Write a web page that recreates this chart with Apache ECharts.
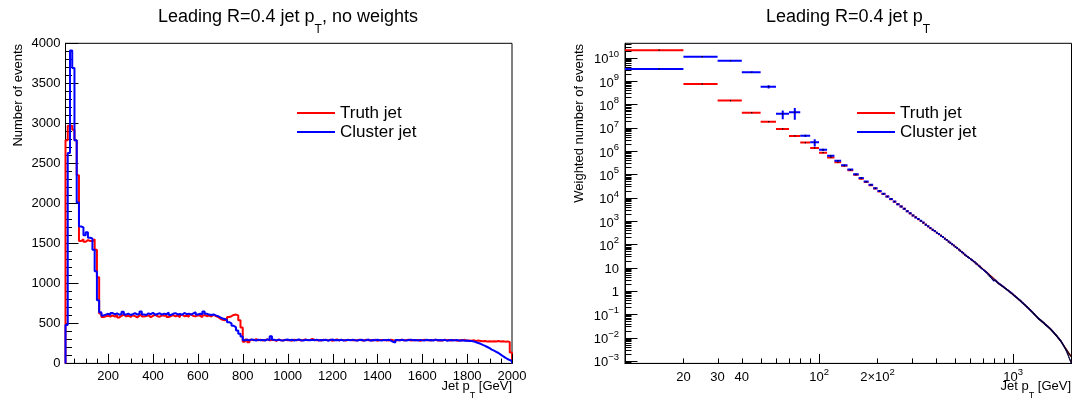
<!DOCTYPE html>
<html>
<head>
<meta charset="utf-8">
<script src="https://cdn.jsdelivr.net/npm/echarts@6.0.0/dist/echarts.min.js"></script>
<style>
html,body{margin:0;padding:0;background:#fff;}
#chart{width:1075px;height:401px;}
</style>
</head>
<body>
<div id="chart"></div>
<script>
// ---------------- data ----------------
// 10 GeV bins from 10 to 2000 GeV
const BIN_START = 10;
const BIN_WIDTH = 10;

const seriesNames = ['Truth jet', 'Cluster jet'];

// left panel: raw counts per bin
const truthCounts = [
  2790, 2970, 2970, 2920, 2790, 2350, 1530, 1550, 1520, 1540,
  1530, 1530, 1550, 1420, 1075, 625, 580, 590, 595, 585,
  600, 585, 605, 575, 595, 610, 588, 596, 580, 602,
  590, 575, 598, 612, 585, 593, 600, 578, 595, 607,
  590, 583, 600, 595, 612, 580, 592, 603, 587, 598,
  576, 605, 590, 596, 583, 610, 592, 588, 600, 595,
  578, 603, 590, 598, 585, 607, 592, 580, 560, 545,
  540, 550, 580, 590, 605, 610, 600, 540, 450, 270,
  300, 265, 295, 290, 302, 288, 296, 285, 293, 300,
  287, 295, 291, 283, 298, 290, 286, 296, 289, 293,
  284, 297, 290, 295, 286, 292, 299, 288, 294, 305,
  296, 289, 293, 285, 297, 291, 288, 295, 283, 292,
  298, 287, 294, 290, 285, 296, 291, 288, 293, 286,
  295, 290, 284, 297, 289, 292, 287, 296, 283, 291,
  294, 288, 292, 286, 297, 290, 284, 293, 289, 295,
  287, 292, 296, 285, 291, 289, 294, 283, 290, 297,
  288, 293, 286, 291, 295, 287, 290, 284, 296, 289,
  292, 286, 294, 290, 283, 291, 288, 295, 282, 287,
  284, 290, 279, 286, 281, 276, 279, 274, 278, 275,
  277, 273, 279, 274, 276, 272, 275, 268, 135
];
const clusterCounts = [
  480, 2630, 3910, 3690, 2790, 2010, 1710, 1700, 1600, 1640,
  1570, 1560, 1420, 1150, 790, 640, 600, 610, 620, 605,
  630, 612, 625, 608, 618, 645, 610, 622, 605, 615,
  628, 610, 620, 648, 612, 605, 625, 615, 632, 608,
  618, 626, 610, 622, 615, 635, 605, 620, 628, 612,
  618, 608, 630, 615, 622, 610, 625, 640, 612, 620,
  615, 650, 620, 610, 605, 612, 600, 590, 575, 560,
  555, 540, 515, 500, 470, 450, 410, 370, 335, 290,
  296, 288, 300, 292, 285, 297, 290, 294, 286, 300,
  292, 340, 295, 288, 297, 290, 286, 294, 298, 289,
  295, 287, 292, 298, 290, 285, 296, 291, 288, 294,
  290, 297, 286, 293, 289, 295, 284, 292, 298, 288,
  293, 289, 296, 285, 291, 294, 288, 297, 290, 286,
  292, 295, 287, 290, 298, 284, 293, 289, 296, 290,
  287, 294, 290, 296, 285, 270, 262, 291, 288, 295,
  290, 286, 293, 297, 289, 292, 285, 294, 290, 287,
  295, 289, 292, 286, 297, 290, 293, 288, 294, 284,
  290, 293, 286, 291, 288, 284, 289, 283, 286, 281,
  280, 275, 265, 255, 245, 232, 220, 205, 190, 172,
  160, 145, 130, 110, 90, 72, 55, 42, 30
];

// right panel: weighted counts per bin
const truthWeighted = [
  2.1e10, 7.5e8, 1.45e8, 4.4e7, 1.8e7, 8.8e6, 4.4e6, 2.3e6, 1.35e6, 8.5e5,
  5.3e5, 3.3e5, 2.3e5, 1.5e5, 9.5e4, 6.5e4, 4.7e4, 3.4e4, 2.45e4, 1.84e4,
  1.43e4, 1.11e4, 8.6e3, 6.7e3, 5.2e3, 4.2e3, 3.3e3, 2.6e3, 2.1e3, 1.7e3,
  1.43e3, 1.19e3, 1.0e3, 8.4e2, 7.0e2, 5.85e2, 4.9e2, 4.2e2, 3.65e2, 3.15e2,
  272, 235, 203, 175, 151, 131, 115, 101, 88.5, 77.6,
  68.2, 59.8, 52.6, 46.1, 40.6, 35.6, 31.8, 28.6, 25.7, 23.1,
  20.8, 18.7, 16.8, 15.1, 13.6, 12.2, 11.0, 9.84, 8.89, 8.05,
  7.29, 6.62, 6.0, 5.43, 4.93, 4.47, 4.05, 3.67, 3.33, 3.01,
  2.74, 2.46, 2.26, 2.05, 1.94, 1.78, 1.68, 1.55, 1.47, 1.35,
  1.27, 1.18, 1.10, 1.03, 0.96, 0.893, 0.834, 0.778, 0.726, 0.679,
  0.634, 0.592, 0.552, 0.515, 0.482, 0.450, 0.420, 0.392, 0.366, 0.342,
  0.319, 0.298, 0.278, 0.260, 0.243, 0.227, 0.212, 0.199, 0.186, 0.174,
  0.163, 0.152, 0.142, 0.133, 0.124, 0.116, 0.109, 0.102, 0.0951, 0.0889,
  0.0832, 0.0778, 0.0728, 0.0681, 0.0646, 0.0615, 0.0585, 0.0556, 0.0528, 0.0502,
  0.0478, 0.0454, 0.0432, 0.0410, 0.0390, 0.0371, 0.0352, 0.0335, 0.0319, 0.0303,
  0.0288, 0.0274, 0.0261, 0.0248, 0.0236, 0.0224, 0.0213, 0.0200, 0.0189, 0.0178,
  0.0168, 0.0159, 0.0150, 0.0141, 0.0133, 0.0126, 0.0119, 0.0112, 0.0105, 0.00995,
  0.00938, 0.00885, 0.00834, 0.00787, 0.00743, 0.00700, 0.00656, 0.00607, 0.00562, 0.00521,
  4.8e-3, 4.5e-3, 4.2e-3, 3.9e-3, 3.65e-3, 3.4e-3, 3.2e-3, 3.0e-3, 2.8e-3, 2.6e-3,
  2.45e-3, 2.3e-3, 2.15e-3, 2.0e-3, 1.9e-3, 1.8e-3, 1.7e-3, 1.6e-3, 1.0e-3
];
const clusterWeighted = [
  3.3e9, 1.1e10, 7.4e9, 2.37e9, 5.7e8, 3.9e7, 4.6e7, 4.5e6, 2.35e6, 1.12e6,
  6.2e5, 3.8e5, 2.45e5, 1.6e5, 1.0e5, 6.9e4, 4.9e4, 3.55e4, 2.5e4, 1.9e4,
  1.46e4, 1.12e4, 8.8e3, 6.8e3, 5.25e3, 4.15e3, 3.35e3, 2.62e3, 2.12e3, 1.72e3,
  1.42e3, 1.2e3, 1.01e3, 8.5e2, 6.95e2, 5.9e2, 4.95e2, 4.15e2, 3.7e2, 3.12e2,
  275, 233, 205, 173, 153, 130, 116, 100, 89.5, 77,
  68.8, 59.2, 53.1, 45.7, 41.0, 35.2, 32.1, 28.3, 26.0, 22.8,
  21.0, 18.5, 17.0, 14.9, 13.7, 12.0, 11.1, 9.7, 8.8, 7.9,
  7.15, 6.45, 5.8, 5.0, 4.45, 3.95, 3.5, 3.1, 2.8, 2.9,
  2.72, 2.5, 2.22, 2.08, 1.91, 1.8, 1.65, 1.57, 1.45, 1.37,
  1.26, 1.19, 1.09, 1.04, 0.95, 0.9, 0.826, 0.785, 0.72, 0.684,
  0.628, 0.597, 0.547, 0.519, 0.477, 0.454, 0.416, 0.395, 0.362, 0.345,
  0.316, 0.3, 0.275, 0.262, 0.24, 0.229, 0.21, 0.2, 0.184, 0.175,
  0.161, 0.153, 0.14, 0.134, 0.122, 0.117, 0.107, 0.103, 0.0938, 0.0895,
  0.082, 0.0783, 0.0718, 0.0685, 0.0638, 0.0619, 0.0578, 0.0559, 0.0521, 0.0505,
  0.0472, 0.0457, 0.0427, 0.0412, 0.0385, 0.0362, 0.0343, 0.0337, 0.0315, 0.0305,
  0.0285, 0.0276, 0.0258, 0.025, 0.0233, 0.0226, 0.021, 0.0202, 0.0186, 0.018,
  0.0166, 0.016, 0.0148, 0.0142, 0.0131, 0.0127, 0.0117, 0.0113, 0.0104, 0.01,
  0.0093, 0.0089, 0.0082, 0.0079, 0.0073, 0.0069, 0.0065, 0.006, 0.0055, 0.0051,
  4.7e-3, 4.35e-3, 4.0e-3, 3.7e-3, 3.4e-3, 3.1e-3, 2.85e-3, 2.6e-3, 2.35e-3, 2.1e-3,
  1.9e-3, 1.7e-3, 1.5e-3, 1.35e-3, 1.2e-3, 1.1e-3, 1.0e-3, 9.0e-4, 8.0e-4
];
// statistical errors of the weighted histograms (first bins; later bins negligible)
const truthWeightedErr = [4e8, 3e7, 6e6, 1.5e6, 6e5, 3e5, 1.5e5, 8e4, 4e4, 2.5e4, 1.5e4, 1e4];
const clusterWeightedErr = [1.5e8, 4e8, 3e8, 1.6e8, 9e7, 1.6e7, 2.4e7, 5e5, 8e5, 1.2e5, 5e4, 3e4];

// tick labels
const leftXTickLabels = ['200', '400', '600', '800', '1000', '1200', '1400', '1600', '1800', '2000'];
const leftYTickLabels = ['0', '500', '1000', '1500', '2000', '2500', '3000', '3500', '4000'];
const rightXTickValues = [20, 30, 40, 100, 200, 1000];
const rightXTickLabels = ['20', '30', '40', '10^2', '2\u00d710^2', '10^3'];
const rightYTickLabels = ['10^\u22123', '10^\u22122', '10^\u22121', '1', '10', '10^2', '10^3', '10^4', '10^5', '10^6', '10^7', '10^8', '10^9', '10^10'];

// ---------------- chart ----------------
const FONT = "'Liberation Sans', Arial, Helvetica, sans-serif";
const RED = '#ff0000', BLUE = '#0000ff';
const L_X = [10, 2000], L_Y = [0, 4000];
const R_X = [10, 2000], R_Y = [7.8e-4, 4.14e10];

function richLabel(s) {
  const i = s.indexOf('^');
  if (i < 0) return '{b|' + s + '}';
  return '{b|' + s.slice(0, i) + '}{e|' + s.slice(i + 1) + '}';
}
const LABEL_RICH = {
  b: { fontSize: 13, fontFamily: FONT, lineHeight: 17, verticalAlign: 'bottom', fill: '#000', color: '#000' },
  e: { fontSize: 9.5, fontFamily: FONT, lineHeight: 10, verticalAlign: 'top', fill: '#000', color: '#000' }
};

function binLow(i) { return BIN_START + i * BIN_WIDTH; }

function stepData(vals) {
  const d = [[binLow(0), 0]];
  vals.forEach((v, i) => d.push([binLow(i), v]));
  d.push([binLow(vals.length), vals[vals.length - 1]]);
  d.push([binLow(vals.length), 0]);
  return d;
}

function countSeries(name, color, vals) {
  return {
    type: 'line', name, xAxisIndex: 0, yAxisIndex: 0, step: 'end',
    data: stepData(vals), showSymbol: false, symbol: 'none', color,
    lineStyle: { color, width: 2 }, silent: true
  };
}

function weightedSeries(name, color, vals, errs) {
  const data = vals.map((v, i) => [binLow(i), binLow(i + 1), v, errs[i] || 0]);
  return {
    type: 'custom', name, xAxisIndex: 1, yAxisIndex: 1, clip: true, color,
    itemStyle: { color }, silent: true,
    encode: { x: [0, 1], y: 2 },
    data,
    renderItem(params, api) {
      const lo = api.value(0), hi = api.value(1), v = api.value(2), e = api.value(3);
      const c = (lo + hi) / 2;
      const a = api.coord([lo, v]), b = api.coord([hi, v]), m = api.coord([c, v]);
      const ch = [{ type: 'line', shape: { x1: a[0], y1: a[1], x2: b[0], y2: b[1] }, style: { stroke: color, lineWidth: 2 } }];
      if (e > 0) {
        const up = api.coord([c, v + e]), dn = api.coord([c, Math.max(v - e, v * 0.05)]);
        ch.push({ type: 'line', shape: { x1: up[0], y1: up[1], x2: dn[0], y2: dn[1] }, style: { stroke: color, lineWidth: 2 } });
      }
      ch.push({ type: 'rect', shape: { x: m[0] - 0.6, y: m[1] - 0.6, width: 1.2, height: 1.2 }, style: { fill: '#000' } });
      return { type: 'group', children: ch };
    }
  };
}

function tickSeries(gridIdx, dir, ticks, other, lenMajor, lenMinor, gap) {
  return {
    type: 'custom', xAxisIndex: gridIdx, yAxisIndex: gridIdx, silent: true, clip: false, z: 5,
    data: ticks.map(t => (dir === 'x' ? [t.v, other] : [other, t.v])),
    encode: { x: 0, y: 1 },
    renderItem(params, api) {
      const t = ticks[params.dataIndex];
      const p = api.coord([api.value(0), api.value(1)]);
      const len = t.major ? lenMajor : lenMinor;
      const ch = [];
      if (dir === 'x') {
        const x = Math.round(p[0]) + 0.5;
        ch.push({ type: 'line', shape: { x1: x, y1: p[1], x2: x, y2: p[1] - len }, style: { stroke: '#000', lineWidth: 1 } });
      } else {
        const y = Math.round(p[1]) + 0.5;
        ch.push({ type: 'line', shape: { x1: p[0], y1: y, x2: p[0] + len, y2: y }, style: { stroke: '#000', lineWidth: 1 } });
      }
      if (t.label) {
        ch.push({
          type: 'text',
          x: dir === 'x' ? p[0] : p[0] - gap,
          y: dir === 'x' ? p[1] + gap : p[1],
          style: { text: richLabel(t.label), rich: LABEL_RICH, align: dir === 'x' ? 'center' : 'right', verticalAlign: 'middle' }
        });
      }
      return { type: 'group', children: ch };
    }
  };
}

// tick lists
const leftXTicks = [];
for (let v = 50; v < L_X[1]; v += 50) {
  const li = leftXTickLabels.indexOf(String(v));
  leftXTicks.push({ v, major: v % 200 === 0, label: li >= 0 ? leftXTickLabels[li] : null });
}
leftXTicks.push({ v: 2000, major: true, label: '2000' });

const rightXTicks = [];
for (let n = 1; n <= 3; n++) {
  for (let k = 1; k <= 9; k++) {
    const v = k * Math.pow(10, n);
    if (v <= R_X[0] || v >= R_X[1]) continue;
    const li = rightXTickValues.indexOf(v);
    rightXTicks.push({ v, major: k === 1, label: li >= 0 ? rightXTickLabels[li] : null });
  }
}
const rightYTicks = [];
for (let n = -4; n <= 10; n++) {
  for (let k = 1; k <= 9; k++) {
    const v = k * Math.pow(10, n);
    if (v < R_Y[0] || v > R_Y[1]) continue;
    rightYTicks.push({ v, major: k === 1, label: k === 1 ? rightYTickLabels[n + 3] : null });
  }
}

const TITLE_RICH = {
  b: { fontSize: 18, fontFamily: FONT, lineHeight: 22, verticalAlign: 'top', fill: '#000' },
  s: { fontSize: 12, fontFamily: FONT, lineHeight: 12, padding: [16, 0, 0, 0], verticalAlign: 'top', fill: '#000' }
};
const XTITLE_RICH = {
  b: { fontSize: 13, fontFamily: FONT, lineHeight: 16, verticalAlign: 'top', fill: '#000' },
  s: { fontSize: 9, fontFamily: FONT, lineHeight: 9, padding: [11, 0, 0, 0], verticalAlign: 'top', fill: '#000' }
};
const LEGEND = { orient: 'vertical', itemWidth: 38, itemHeight: 2, icon: 'rect', itemGap: 0, padding: 0,
  selectedMode: false, textStyle: { fontSize: 17, fontFamily: FONT, color: '#000', lineHeight: 19 } };

const AXIS_LINE = { show: true, lineStyle: { color: '#000', width: 1 } };
const chart = echarts.init(document.getElementById('chart'), null, { renderer: 'canvas' });
chart.setOption({
  animation: false,
  backgroundColor: '#fff',
  grid: [
    { left: 65.5, right: 563, top: 43.3, bottom: 37.6, show: true, borderColor: '#000', borderWidth: 1, backgroundColor: 'transparent', containLabel: false, outerBoundsMode: 'none' },
    { left: 625, right: 3.5, top: 43.3, bottom: 37.6, show: true, borderColor: '#000', borderWidth: 1, backgroundColor: 'transparent', containLabel: false, outerBoundsMode: 'none' }
  ],
  xAxis: [
    { type: 'value', gridIndex: 0, min: L_X[0], max: L_X[1], axisLine: AXIS_LINE, axisTick: { show: false }, axisLabel: { show: false }, splitLine: { show: false } },
    { type: 'log', logBase: 10, gridIndex: 1, min: R_X[0], max: R_X[1], axisLine: AXIS_LINE, axisTick: { show: false }, axisLabel: { show: false }, splitLine: { show: false } }
  ],
  yAxis: [
    { type: 'value', gridIndex: 0, min: L_Y[0], max: L_Y[1], interval: 500, axisLine: AXIS_LINE,
      axisTick: { show: true, inside: true, length: 13, lineStyle: { color: '#000' } },
      minorTick: { show: true, splitNumber: 5, length: 6.5, lineStyle: { color: '#000' } },
      axisLabel: { show: true, color: '#000', fontSize: 13, fontFamily: FONT, margin: 5,
        formatter: (v) => leftYTickLabels[Math.round(v / 500)] },
      splitLine: { show: false }, minorSplitLine: { show: false } },
    { type: 'log', logBase: 10, gridIndex: 1, min: R_Y[0], max: R_Y[1], axisLine: AXIS_LINE, axisTick: { show: false }, axisLabel: { show: false }, splitLine: { show: false } }
  ],
  legend: [
    Object.assign({ data: seriesNames, left: 297, top: 103.5 }, LEGEND),
    Object.assign({ data: seriesNames, left: 857, top: 103.5 }, LEGEND)
  ],
  graphic: [
    { type: 'text', x: 288, y: 19, silent: true, style: { text: '{b|Leading R=0.4 jet p}{s|T}{b|, no weights}', align: 'center', verticalAlign: 'middle', rich: TITLE_RICH } },
    { type: 'text', x: 848, y: 19, silent: true, style: { text: '{b|Leading R=0.4 jet p}{s|T}', align: 'center', verticalAlign: 'middle', rich: TITLE_RICH } },
    { type: 'text', x: 18, y: 44, rotation: Math.PI / 2, silent: true, style: { text: 'Number of events', align: 'right', verticalAlign: 'middle', fontSize: 13, fontFamily: FONT, fill: '#000' } },
    { type: 'text', x: 579.5, y: 44, rotation: Math.PI / 2, silent: true, style: { text: 'Weighted number of events', align: 'right', verticalAlign: 'middle', fontSize: 13, fontFamily: FONT, fill: '#000' } },
    { type: 'text', x: 512, y: 388, silent: true, style: { text: '{b|Jet p}{s|T}{b| [GeV]}', align: 'right', verticalAlign: 'middle', rich: XTITLE_RICH } },
    { type: 'text', x: 1071, y: 388, silent: true, style: { text: '{b|Jet p}{s|T}{b| [GeV]}', align: 'right', verticalAlign: 'middle', rich: XTITLE_RICH } }
  ],
  series: [
    countSeries(seriesNames[0], RED, truthCounts),
    countSeries(seriesNames[1], BLUE, clusterCounts),
    weightedSeries(seriesNames[0], RED, truthWeighted, truthWeightedErr),
    weightedSeries(seriesNames[1], BLUE, clusterWeighted, clusterWeightedErr),
    tickSeries(0, 'x', leftXTicks, L_Y[0], 9.5, 4.8, 11.5),
    tickSeries(1, 'x', rightXTicks, R_Y[0], 9.5, 5, 12),
    tickSeries(1, 'y', rightYTicks, R_X[0], 12.5, 6.5, 6)
  ]
});
</script>
</body>
</html>
